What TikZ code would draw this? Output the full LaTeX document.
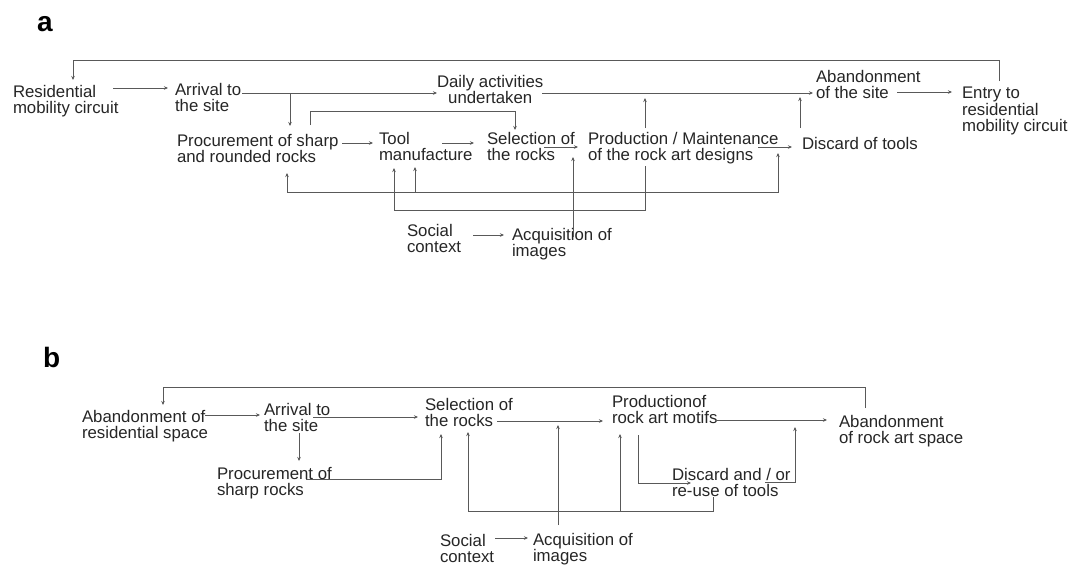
\documentclass[tikz,border=0pt]{standalone}
\usepackage{fontspec}
\setmainfont{Liberation Sans}
\usetikzlibrary{arrows.meta}
\newcommand\lblfont{\fontsize{16.8}{16.5}\selectfont}
\tikzset{
  lbl/.style={anchor=north west, inner sep=0pt, outer sep=0pt, align=left,
              font=\lblfont, text=black!85, execute at begin node=\strut},
  conn/.style={draw=black!65, line width=0.9pt},
  arr/.style={conn, -{Stealth[length=4pt,width=3.5pt]}},
  panel/.style={anchor=base west, inner sep=0pt, font=\bfseries\fontsize{28}{28}\selectfont}
}
\begin{document}
\begin{tikzpicture}[x=1pt,y=-1pt]
\useasboundingbox[fill=white] (0,0) rectangle (1074,566);

% ---------------- panel a ----------------
\node[panel] (la) at (37,31) {a};
\node[lbl] (res) at (13,85) {Residential\\mobility circuit};
\node[lbl] (arr) at (175,83) {Arrival to\\the site};
\node[lbl,align=center] (daily) at (437,75) {Daily activities\\undertaken};
\node[lbl] (aban) at (816,70) {Abandonment\\of the site};
\node[lbl] (entry) at (962,87) {Entry to\\residential\\mobility circuit};
\node[lbl] (proc) at (177,134) {Procurement of sharp\\and rounded rocks};
\node[lbl] (tool) at (379,132) {Tool\\manufacture};
\node[lbl] (sel) at (487,132) {Selection of\\the rocks};
\node[lbl] (prod) at (588,132) {Production / Maintenance\\of the rock art designs};
\node[lbl] (disc) at (802,137) {Discard of tools};
\node[lbl] (soc) at (407,224) {Social\\context};
\node[lbl] (acq) at (512,228) {Acquisition of\\images};

\draw[arr] ([shift={(37,-6)}]entry.north west) |- (73,60) -- ([shift={(60,-5)}]res.north west);
\draw[arr] ([shift={(100,3)}]res.north west) -- ([shift={(-7,5)}]arr.north west);
\draw[arr] ([shift={(67,10)}]arr.north west) -- ([shift={(0,18)}]daily.north west);
\draw[arr] ([shift={(115,10)}]arr.north west) -- ([shift={(113,-8)}]proc.north west);
\draw[arr] ([shift={(133,-9)}]proc.north west) |- ([shift={(28,-21)}]sel.north west) -- ([shift={(28,-2)}]sel.north west);
\draw[arr] ([shift={(105,18)}]daily.north west) -- ([shift={(-3,23)}]aban.north west);
\draw[arr] ([shift={(57,-4)}]prod.north west) -- ([shift={(57,-34)}]prod.north west);
\draw[arr] ([shift={(-2,-9)}]disc.north west) -- ([shift={(-2,-40)}]disc.north west);
\draw[arr] ([shift={(81,22)}]aban.north west) -- ([shift={(-10,5)}]entry.north west);
\draw[arr] ([shift={(165,9)}]proc.north west) -- ([shift={(-6,11)}]tool.north west);
\draw[arr] ([shift={(63,11)}]tool.north west) -- ([shift={(-13,11)}]sel.north west);
\draw[arr] ([shift={(57,15)}]sel.north west) -- ([shift={(-10,15)}]prod.north west);
\draw[arr] ([shift={(61,9)}]acq.north west) -- ([shift={(86,25)}]sel.north west);
\draw[arr] ([shift={(170,15)}]prod.north west) -- ([shift={(-10,10)}]disc.north west);
\coordinate (b1) at (415,192);
\draw[arr] (b1) -| ([shift={(110,39)}]proc.north west);
\draw[arr] (b1) -- ([shift={(36,35)}]tool.north west);
\draw[arr] (b1) -| ([shift={(-24,16)}]disc.north west);
\draw[arr] ([shift={(57,34)}]prod.north west) |- ([shift={(15,78)}]tool.north west) -- ([shift={(15,36)}]tool.north west);
\draw[arr] ([shift={(66,11)}]soc.north west) -- ([shift={(-8,7)}]acq.north west);

% ---------------- panel b ----------------
\node[panel] (lb) at (43,367) {b};
\node[lbl] (abr) at (82,410) {Abandonment of\\residential space};
\node[lbl] (arb) at (264,403) {Arrival to\\the site};
\node[lbl] (prb) at (217,467) {Procurement of\\sharp rocks};
\node[lbl] (selb) at (425,398) {Selection of\\the rocks};
\node[lbl] (prodb) at (612,395) {Productionof\\rock art motifs};
\node[lbl] (discb) at (672,468) {Discard and / or\\re-use of tools};
\node[lbl] (abra) at (839,415) {Abandonment\\of rock art space};
\node[lbl] (socb) at (440,534) {Social\\context};
\node[lbl] (acqb) at (533,533) {Acquisition of\\images};

\draw[arr] ([shift={(26,-7)}]abra.north west) |- ([shift={(81,-23)}]abr.north west) -- ([shift={(81,-5)}]abr.north west);
\draw[arr] ([shift={(123,5)}]abr.north west) -- ([shift={(-4,12)}]arb.north west);
\draw[arr] ([shift={(49,14)}]arb.north west) -- ([shift={(-7,19)}]selb.north west);
\draw[arr] ([shift={(35,30)}]arb.north west) -- ([shift={(82,-6)}]prb.north west);
\draw[arr] ([shift={(89,12)}]prb.north west) -| ([shift={(16,36)}]selb.north west);
\draw[arr] ([shift={(72,23)}]selb.north west) -- ([shift={(-9,26)}]prodb.north west);
\draw[arr] ([shift={(25,-8)}]acqb.north west) -- ([shift={(133,27)}]selb.north west);
\coordinate (b2) at (620,511);
\draw[arr] ([shift={(41,29)}]discb.north west) |- (b2) -| ([shift={(43,34)}]selb.north west);
\draw[arr] (b2) -- ([shift={(8,39)}]prodb.north west);
\draw[arr] ([shift={(26,40)}]prodb.north west) |- ([shift={(19,15)}]discb.north west);
\draw[arr] ([shift={(93,14)}]discb.north west) -| ([shift={(-44,12)}]abra.north west);
\draw[arr] ([shift={(105,25)}]prodb.north west) -- ([shift={(-12,5)}]abra.north west);
\draw[arr] ([shift={(55,4)}]socb.north west) -- ([shift={(-5,5)}]acqb.north west);
\end{tikzpicture}
\end{document}
